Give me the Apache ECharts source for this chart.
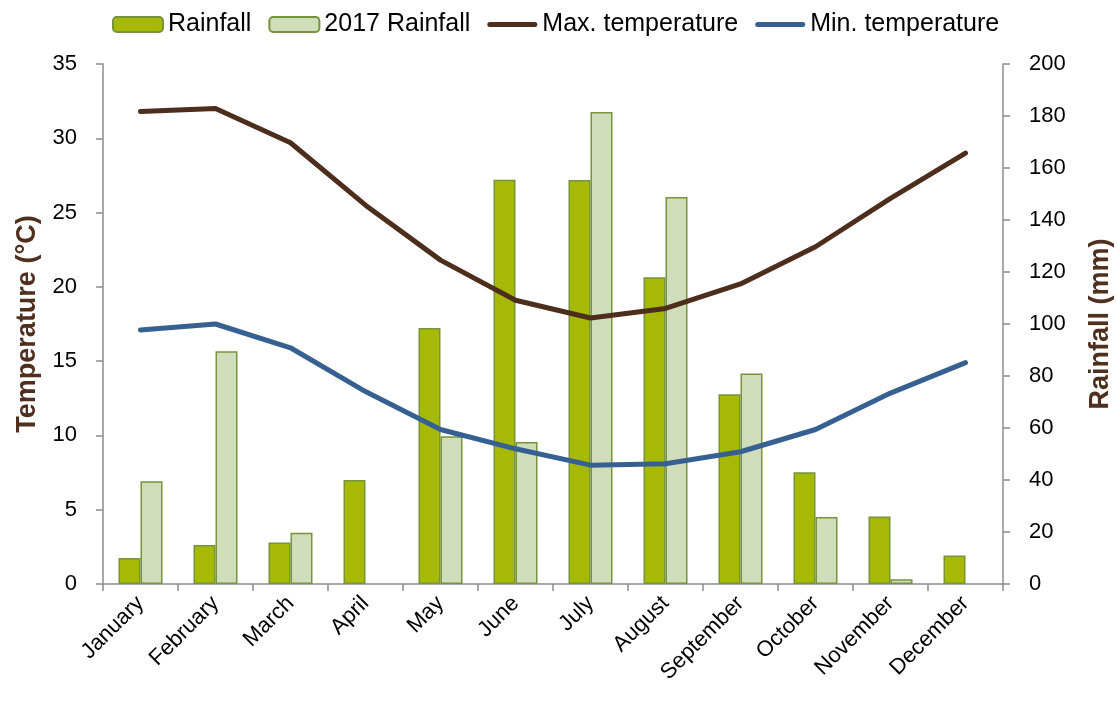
<!DOCTYPE html>
<html>
<head>
<meta charset="utf-8">
<script src="https://cdn.jsdelivr.net/npm/echarts@6/dist/echarts.min.js"></script>
<style>
html,body{margin:0;padding:0;background:#fff;}
#c{width:1117px;height:702px;}
</style>
</head>
<body>
<div id="c"></div>
<script>
const months = ['January','February','March','April','May','June','July','August','September','October','November','December'];
const rainfall = [10, 15, 16, 40, 98.5, 155.5, 155.4, 118, 73, 43, 26, 11];
const rainfall2017 = [39.5, 89.5, 19.7, null, 56.8, 54.6, 181.5, 148.8, 81, 25.8, 1.8, null];
const maxTemp = [31.8, 32.0, 29.7, 25.5, 21.8, 19.1, 17.9, 18.55, 20.2, 22.7, 25.95, 29.0];
const minTemp = [17.1, 17.5, 15.9, 12.95, 10.4, 9.1, 8.0, 8.1, 8.9, 10.4, 12.85, 14.9];
const tempTicks = [0, 35, 5];
const rainTicks = [0, 200, 20];

const FONT = 'Liberation Sans';
const axisGrey = '#8c8c8c';
const lineIcon = 'path://M2.5,0 L47.5,0 A2.5,2.5 0 0 1 47.5,5 L2.5,5 A2.5,2.5 0 0 1 2.5,0 Z';
const chart = echarts.init(document.getElementById('c'));
chart.setOption({
  animation: false,
  textStyle: {fontFamily: FONT},
  legend: {
    top: 7, left: 107,
    itemWidth: 50, itemHeight: 15, itemGap: 17,
    textStyle: {fontSize: 25, color: '#000', fontFamily: FONT},
    data: [
      {name: 'Rainfall'},
      {name: '2017 Rainfall'},
      {name: 'Max. temperature', icon: lineIcon, itemStyle: {color: '#4d2d1c'}},
      {name: 'Min. temperature', icon: lineIcon, itemStyle: {color: '#376092'}}
    ]
  },
  grid: {left: 103, right: 114, top: 64, bottom: 118, containLabel: false, outerBoundsMode: 'none'},
  xAxis: {
    type: 'category', data: months,
    axisLine: {lineStyle: {color: axisGrey, width: 1.5}},
    axisTick: {show: true, length: 7, lineStyle: {color: axisGrey, width: 1.5}},
    axisLabel: {rotate: 45, fontSize: 22, color: '#000', margin: 16, fontFamily: FONT, interval: 0}
  },
  yAxis: [
    {
      type: 'value', min: tempTicks[0], max: tempTicks[1], interval: tempTicks[2], position: 'left',
      name: 'Temperature (°C)', nameLocation: 'middle', nameGap: 62, nameRotate: 90,
      nameTextStyle: {fontSize: 27, fontWeight: 'bold', color: '#4f2f1e', fontFamily: FONT},
      axisLine: {show: true, lineStyle: {color: axisGrey, width: 1.5}},
      axisTick: {show: true, length: 7, lineStyle: {color: axisGrey, width: 1.5}},
      axisLabel: {fontSize: 22, color: '#000', margin: 26, fontFamily: FONT},
      splitLine: {show: false}
    },
    {
      type: 'value', min: rainTicks[0], max: rainTicks[1], interval: rainTicks[2], position: 'right',
      name: 'Rainfall (mm)', nameLocation: 'middle', nameGap: 84, nameRotate: 90,
      nameTextStyle: {fontSize: 27, fontWeight: 'bold', color: '#4f2f1e', fontFamily: FONT},
      axisLine: {show: true, lineStyle: {color: axisGrey, width: 1.5}},
      axisTick: {show: true, length: 7, lineStyle: {color: axisGrey, width: 1.5}},
      axisLabel: {fontSize: 22, color: '#000', margin: 26, fontFamily: FONT},
      splitLine: {show: false}
    }
  ],
  series: [
    {
      name: 'Rainfall', type: 'bar', yAxisIndex: 1, data: rainfall,
      barWidth: 22, barGap: '0%',
      itemStyle: {color: '#a6b904', borderColor: '#77933c', borderWidth: 1.5}
    },
    {
      name: '2017 Rainfall', type: 'bar', yAxisIndex: 1, data: rainfall2017,
      barWidth: 22, barGap: '0%',
      itemStyle: {color: '#d0ddba', borderColor: '#77933c', borderWidth: 1.5}
    },
    {
      name: 'Max. temperature', type: 'line', yAxisIndex: 0, data: maxTemp,
      symbol: 'none', z: 5,
      lineStyle: {color: '#4d2d1c', width: 5, cap: 'round', join: 'round'},
      itemStyle: {color: '#4d2d1c'}
    },
    {
      name: 'Min. temperature', type: 'line', yAxisIndex: 0, data: minTemp,
      symbol: 'none', z: 5,
      lineStyle: {color: '#376092', width: 5, cap: 'round', join: 'round'},
      itemStyle: {color: '#376092'}
    }
  ]
});
</script>
</body>
</html>
